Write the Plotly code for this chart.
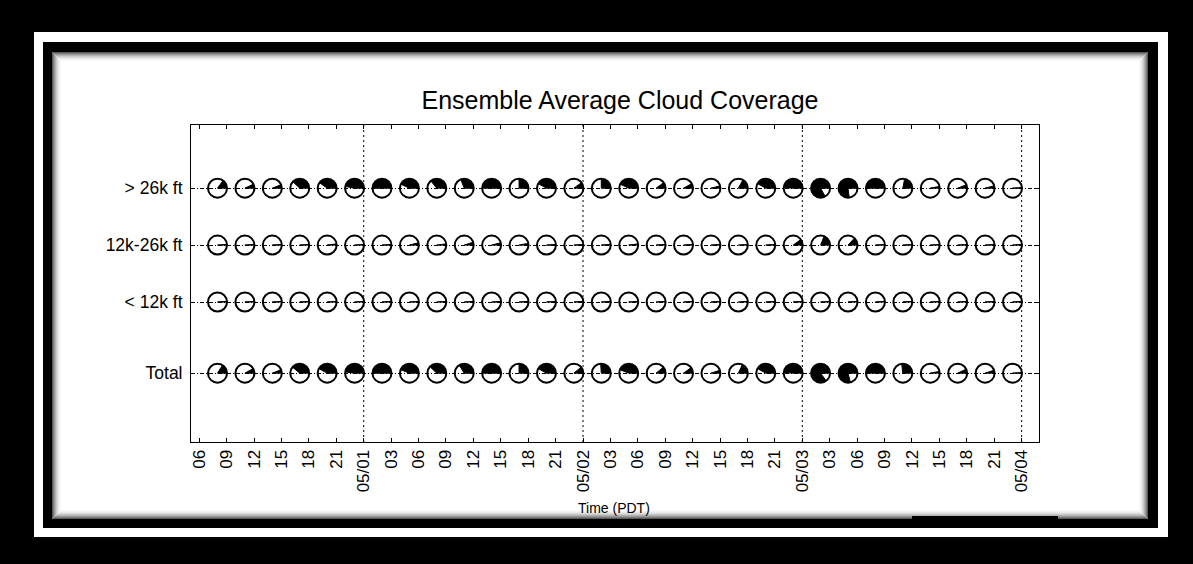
import numpy as np
import pandas as pd
import plotly.graph_objects as go

# ---------------- data ----------------
TITLE = "Ensemble Average Cloud Coverage"
X_LABEL = "Time (PDT)"
LEVELS = ["> 26k ft", "12k-26k ft", "< 12k ft", "Total"]

TIMES = pd.date_range("2014-04-30 08:00", periods=30, freq="3h")

COVER_HIGH = [0.15, 0.07, 0.06, 0.38, 0.40, 0.47, 0.50,
              0.43, 0.36, 0.31, 0.50, 0.25, 0.42, 0.10,
              0.25, 0.43, 0.10, 0.08, 0.04, 0.17, 0.42, 0.49,
              0.83, 0.77, 0.50, 0.22, 0.03, 0.06, 0.04, 0.01]
COVER_MID = [0.01, 0.01, 0.01, 0.01, 0.02, 0.01, 0.01,
             0.04, 0.02, 0.05, 0.04, 0.03, 0.01, 0.01,
             0.01, 0.02, 0.01, 0.01, 0.01, 0.01, 0.01, 0.10,
             0.19, 0.13, 0.01, 0.01, 0.01, 0.01, 0.01, 0.01]
COVER_LOW = [0.01, 0.01, 0.01, 0.01, 0.01, 0.01, 0.01,
             0.01, 0.01, 0.01, 0.01, 0.01, 0.01, 0.01,
             0.01, 0.01, 0.01, 0.01, 0.01, 0.01, 0.01, 0.01,
             0.01, 0.01, 0.01, 0.01, 0.01, 0.01, 0.01, 0.01]
COVER_TOTAL = [0.16, 0.08, 0.06, 0.39, 0.42, 0.48, 0.50,
               0.44, 0.38, 0.34, 0.50, 0.25, 0.42, 0.11,
               0.26, 0.44, 0.11, 0.10, 0.05, 0.18, 0.42, 0.49,
               0.85, 0.79, 0.50, 0.27, 0.03, 0.07, 0.05, 0.01]
SERIES = [COVER_HIGH, COVER_MID, COVER_LOW, COVER_TOTAL]

TICK_TIMES = pd.date_range("2014-04-30 06:00", "2014-05-04 00:00", freq="3h")
TICK_LABELS = ["06", "09", "12", "15", "18", "21", "05/01",
               "03", "06", "09", "12", "15", "18", "21", "05/02",
               "03", "06", "09", "12", "15", "18", "21", "05/03",
               "03", "06", "09", "12", "15", "18", "21", "05/04"]

# ---------------- layout constants ----------------
W, H = 1193, 564
ML, MR, MT, MB = 191, 154, 125, 122
PW, PH = W - ML - MR, H - MT - MB
ROW_Y = [3.25, 2.25, 1.25, 0.0]
FONT = "Liberation Sans, Arial, Helvetica, sans-serif"
R_WEDGE = 9.0


def px_x(p):
    return (p - ML) / PW


def px_y(p):
    return (H - MB - p) / PH


def rect(x0, y0, x1, y1, fill=None, line=None, lw=0):
    d = dict(type="rect", xref="paper", yref="paper",
             x0=px_x(x0), x1=px_x(x1), y0=px_y(y1), y1=px_y(y0),
             layer="below")
    d["fillcolor"] = fill if fill is not None else "rgba(0,0,0,0)"
    d["line"] = dict(width=lw, color=line if line else "rgba(0,0,0,0)")
    return d


def wedge_path(frac, r):
    theta = 2 * np.pi * frac
    n = max(2, int(np.ceil(theta / (np.pi / 48))) + 1)
    angs = np.linspace(0, theta, n)
    pts = " ".join(f"L{r*np.cos(a):.2f},{r*np.sin(a):.2f}" for a in angs)
    return f"M0,0 {pts} Z"


fig = go.Figure()

shapes = []
# picture frame
shapes.append(rect(34, 32, 1168, 537, fill="white"))
shapes.append(rect(43, 42, 1158, 528, fill="black"))
shapes.append(rect(52, 52, 1148, 519, fill="white"))
# inner soft shadow
shade = ["#5a5a5a", "#7c7c7c", "#999999", "#b2b2b2", "#c8c8c8", "#dadada", "#e8e8e8", "#f2f2f2", "#f9f9f9"]
for i, c in enumerate(shade):
    shapes.append(rect(52 + i + 0.5, 52 + i + 0.5, 1148 - i - 0.5, 519 - i - 0.5, line=c, lw=1))
shapes.append(rect(912, 516, 1058, 519, fill="black"))

# vertical dotted lines at day boundaries
for t, lab in zip(TICK_TIMES, TICK_LABELS):
    if "/" in lab:
        ts = t.strftime("%Y-%m-%d %H:%M:%S")
        shapes.append(dict(type="line", xref="x", yref="paper",
                           x0=ts, x1=ts, y0=0, y1=1, layer="below",
                           line=dict(color="black", width=1, dash="2px,3px")))

# circles and wedges
for vals, y in zip(SERIES, ROW_Y):
    fig.add_trace(go.Scatter(
        x=TIMES, y=[y] * len(TIMES), mode="markers",
        marker=dict(symbol="circle-open", size=19, color="black",
                    line=dict(width=2, color="black")),
        hoverinfo="skip", showlegend=False, cliponaxis=False))
    for t, v in zip(TIMES, vals):
        if v <= 0:
            continue
        shapes.append(dict(type="path", xref="x", yref="y",
                           xsizemode="pixel", ysizemode="pixel",
                           xanchor=t.strftime("%Y-%m-%d %H:%M:%S"), yanchor=y,
                           path=wedge_path(v, R_WEDGE),
                           fillcolor="black", line=dict(color="black", width=1),
                           layer="above"))

fig.update_layout(
    width=W, height=H,
    margin=dict(l=ML, r=MR, t=MT, b=MB, autoexpand=False),
    paper_bgcolor="black", plot_bgcolor="white",
    font=dict(family=FONT, color="black"),
    showlegend=False,
    shapes=shapes,
    title=dict(text=TITLE, x=px_x(620), xref="paper",
               y=1 - 100 / H, yref="container", xanchor="center", yanchor="middle",
               font=dict(size=25, family=FONT, color="black")),
    annotations=[dict(text=X_LABEL, xref="paper", yref="paper",
                      x=px_x(614), y=px_y(508), showarrow=False,
                      xanchor="center", yanchor="middle",
                      font=dict(size=14, family=FONT, color="black"))],
)

fig.update_xaxes(
    type="date",
    range=["2014-04-30 05:06", "2014-05-04 01:54"],
    tickmode="array", tickvals=TICK_TIMES, ticktext=TICK_LABELS,
    tickangle=-90, tickfont=dict(size=17, family=FONT, color="black"),
    ticks="inside", ticklen=4, tickcolor="black", tickwidth=1,
    showline=True, linecolor="black", linewidth=1, mirror="ticks",
    showgrid=False, zeroline=False,
)
fig.update_yaxes(
    range=[-1.21, 4.36],
    tickmode="array", tickvals=ROW_Y, ticktext=LEVELS,
    tickfont=dict(size=17.5, family=FONT, color="black"),
    ticks="inside", ticklen=4, tickcolor="black", tickwidth=1,
    ticklabelstandoff=4,
    showline=True, linecolor="black", linewidth=1, mirror="ticks",
    showgrid=True, gridcolor="black", gridwidth=1, griddash="4px,2px,1px,2px",
    zeroline=False,
)

fig.write_html("out.html",
               config={"displayModeBar": False},
               post_script="document.body.style.margin='0';document.body.style.background='black';")
